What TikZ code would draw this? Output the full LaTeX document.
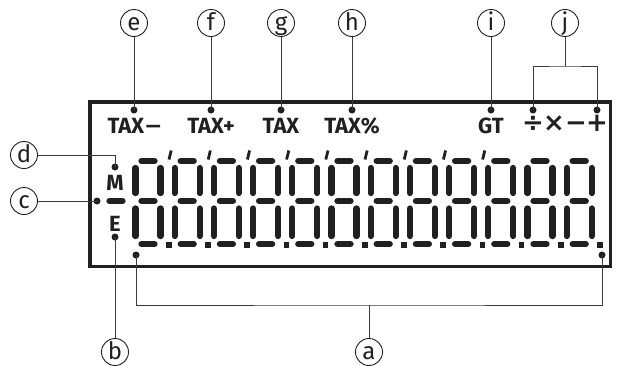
\documentclass[tikz,border=0pt]{standalone}
\usepackage{fontspec}
\setmainfont{Fira Sans}
\newfontfamily\symfont{DejaVu Sans}
\definecolor{ink}{RGB}{35,31,32}
\definecolor{leadc}{RGB}{60,58,58}
\begin{document}
\begin{tikzpicture}[x=1pt,y=-1pt,
  callout/.style={circle, draw=ink, line width=0.9pt, minimum size=27pt, inner sep=0pt,
    text height=14pt, text depth=0pt, text=ink, font=\fontsize{24}{24}\selectfont},
  pin/.style={circle, fill=ink, inner sep=0pt, minimum size=7pt},
  lbl/.style={inner sep=0pt, anchor=base, text=ink, font=\bfseries\fontsize{22}{22}\selectfont},
  sym/.style={inner sep=0pt, anchor=base, text=ink, font=\symfont\bfseries\fontsize{26}{26}\selectfont},
  lead/.style={line width=0.9pt, draw=leadc},
  seg/.style={line width=6.3pt, line cap=round, draw=ink},
  frame/.style={line width=3.5pt, draw=ink}
]
\useasboundingbox (0,0) rectangle (618,365);

% frame
\draw[frame] (90,102) rectangle (610.5,266.5);

% digits
\foreach \k in {0,...,11}{
  \begin{scope}[shift={(39.2*\k,0)}]
    \draw[seg] (141.5,161) -- (154.5,161);
    \draw[seg] (141.5,201) -- (154.5,201);
    \draw[seg] (141.5,244) -- (154.5,244);
    \draw[seg] (135.5,168) -- (135.5,193);
    \draw[seg] (160.5,168) -- (160.5,193);
    \draw[seg] (135.5,208.5) -- (135.5,236);
    \draw[seg] (160.5,208.5) -- (160.5,236);
    \fill[ink] (166,242) rectangle (171.5,247.5);
  \end{scope}
}
% separator ticks
\foreach \k in {1,...,9}{
  \begin{scope}[shift={(39.2*\k,0)}]
    \draw[ink, line width=2.8pt] (132,150.5) -- (129.8,159.5);
  \end{scope}
}
% minus segment
\draw[seg] (109.5,201) -- (122.5,201);

% labels
\node[lbl] (tm) at (135,133) {TAX{\symfont\bfseries −}};
\node[lbl] (tp) at (211,133) {TAX+};
\node[lbl] (tx) at (281,133) {TAX};
\node[lbl] (tc) at (352,133) {TAX\%};
\node[lbl] (gt) at (491,133) {GT};
\node[sym] (sdiv) at (533,131) {÷};
\node[sym] (smul) at (554,131) {×};
\node[sym] (smin) at (576,131) {−};
\node[sym] (splu) at (597,131) {+};
\node[lbl] (lm) at (115,190) {M};
\node[lbl] (le) at (115,231) {E};

% pins
\node[pin] (de) at (134,110) {};
\node[pin] (df) at (211,110) {};
\node[pin] (dg) at (281,110) {};
\node[pin] (dh) at (352,110) {};
\node[pin] (di) at (491,110) {};
\node[pin] (ddiv) at (533,110) {};
\node[pin] (dplu) at (597,110) {};
\node[pin] (dm) at (115,167) {};
\node[pin] (dc) at (97,201) {};
\node[pin] (dee) at (115,237) {};
\node[pin] (dal) at (136,255) {};
\node[pin] (dar) at (602,255) {};

% callouts
\node[callout] (ce) at (134,23) {e};
\node[callout] (cf) at (211,23) {f};
\node[callout] (cg) at (281,23) {g};
\node[callout] (ch) at (352,23) {h};
\node[callout] (ci) at (491,23) {i};
\node[callout] (cj) at (565,23) {j};
\node[callout] (cd) at (24,155) {d};
\node[callout] (cc) at (24,201) {c};
\node[callout] (cb) at (115,352) {b};
\node[callout] (ca) at (369,352) {a};

\coordinate (jm) at (565,66);
\coordinate (am) at (369,305);

% leaders
\draw[lead] (ce) -- (de.center);
\draw[lead] (cf) -- (df.center);
\draw[lead] (cg) -- (dg.center);
\draw[lead] (ch) -- (dh.center);
\draw[lead] (ci) -- (di.center);
\draw[lead] (cj) -- (jm);
\draw[lead] (ddiv.center) |- (jm) -| (dplu.center);
\draw[lead] (cd) -| (dm.center);
\draw[lead] (cc) -- (dc.center);
\draw[lead] (dee.center) -- (cb);
\draw[lead] (dal.center) |- (am) -| (dar.center);
\draw[lead] (am) -- (ca);
\end{tikzpicture}
\end{document}
